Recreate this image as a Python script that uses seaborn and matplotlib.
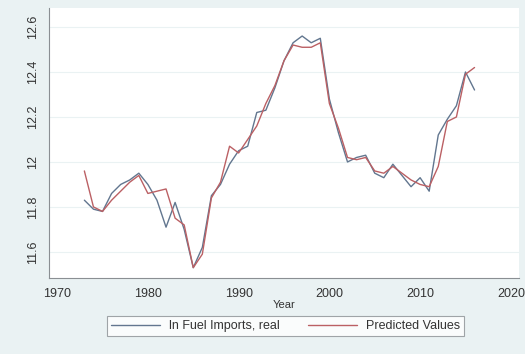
import pandas as pd
import matplotlib.pyplot as plt
import seaborn as sns
import numpy as np

# values
years = list(range(1973, 2017))

actual = [11.83, 11.79, 11.78, 11.86, 11.90, 11.92, 11.95, 11.90, 11.83, 11.71,
          11.82, 11.70, 11.53, 11.62, 11.85, 11.90, 11.99, 12.05, 12.07, 12.22,
          12.23, 12.33, 12.45, 12.53, 12.56, 12.53, 12.55, 12.28, 12.13, 12.00,
          12.02, 12.03, 11.95, 11.93, 11.99, 11.94, 11.89, 11.93, 11.87, 12.12,
          12.19, 12.25, 12.40, 12.32]

predicted = [11.96, 11.80, 11.78, 11.83, 11.87, 11.91, 11.94, 11.86, 11.87, 11.88,
             11.75, 11.72, 11.53, 11.59, 11.84, 11.91, 12.07, 12.04, 12.10, 12.16,
             12.26, 12.34, 12.45, 12.52, 12.51, 12.51, 12.53, 12.26, 12.15, 12.02,
             12.01, 12.02, 11.96, 11.95, 11.98, 11.95, 11.92, 11.90, 11.89, 11.98,
             12.18, 12.20, 12.39, 12.42]

series_names = ["ln Fuel Imports, real", "Predicted Values"]
x_ticks = [1970, 1980, 1990, 2000, 2010, 2020]
y_ticks = [11.6, 11.8, 12.0, 12.2, 12.4, 12.6]
y_labels = ["11.6", "11.8", "12", "12.2", "12.4", "12.6"]

df = pd.DataFrame({
    "Year": years * 2,
    "value": actual + predicted,
    "series": [series_names[0]] * len(years) + [series_names[1]] * len(years),
})

sns.set_style("white")
plt.rcParams["font.family"] = ["Liberation Sans", "DejaVu Sans"]

bg = "#eaf2f3"
fig = plt.figure(figsize=(5.25, 3.54), dpi=100, facecolor=bg)
ax = fig.add_axes([0.0933, 0.2147, 0.8953, 0.7623])
ax.set_facecolor("white")

sns.lineplot(data=df, x="Year", y="value", hue="series",
             palette=["#62768f", "#bb6064"], linewidth=1.0, ax=ax)

ax.set_xlim(1969.1, 2020.9)
ax.set_ylim(11.484, 12.684)
ax.set_xticks(x_ticks)
ax.set_yticks(y_ticks)
ax.set_yticklabels(y_labels, rotation=90, va="center")
ax.grid(axis="y", color=bg, linewidth=0.8)
ax.set_axisbelow(True)

for s in ["top", "right"]:
    ax.spines[s].set_visible(False)
for s in ["left", "bottom"]:
    ax.spines[s].set_color("#8a8f93")
    ax.spines[s].set_linewidth(0.8)
ax.tick_params(axis="both", direction="out", length=4, width=0.8,
               color="#8a8f93", labelsize=9, labelcolor="#333333", pad=3)

ax.set_xlabel("Year", fontsize=8, color="#333333", labelpad=0)
ax.set_ylabel("")

ax.get_legend().remove()
handles, labels = ax.get_legend_handles_labels()
leg = fig.legend(handles, labels, loc="center", bbox_to_anchor=(0.5438, 0.0791),
                 ncol=2, fontsize=9, frameon=True, fancybox=False,
                 edgecolor="#8a8f93", facecolor="white", handlelength=3.9,
                 columnspacing=2.3, borderpad=0.35, borderaxespad=0,
                 handletextpad=0.7, labelcolor="#333333")
leg.get_frame().set_linewidth(0.8)

fig.savefig("out.png", dpi=100, facecolor=bg)
